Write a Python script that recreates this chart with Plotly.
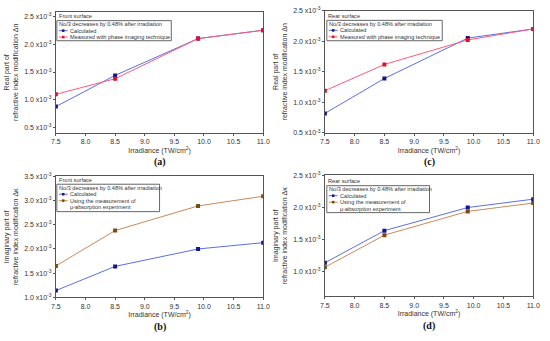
import plotly.graph_objects as go

# ---------------- data (values in units of 1e-3) ----------------
irradiance = [7.5, 8.5, 9.9, 11.0]

a_calc = [0.88, 1.44, 2.10, 2.25]
a_meas = [1.10, 1.38, 2.10, 2.25]

c_calc = [0.82, 1.39, 2.05, 2.20]
c_meas = [1.19, 1.62, 2.02, 2.20]

b_calc = [1.14, 1.64, 2.00, 2.13]
b_meas = [1.65, 2.38, 2.89, 3.09]

d_calc = [1.14, 1.64, 2.00, 2.13]
d_meas = [1.07, 1.57, 1.94, 2.07]

x_ticks = [7.5, 8.0, 8.5, 9.0, 9.5, 10.0, 10.5, 11.0]
y_ticks_a = [0.5, 1.0, 1.5, 2.0, 2.5]
y_ticks_b = [1.0, 1.5, 2.0, 2.5, 3.0, 3.5]
y_ticks_d = [1.0, 1.5, 2.0, 2.5]

legend_title = "No/3 decreases by 0.48% after irradiation"
name_calc = "Calculated"
name_phase = ["Measured with phase imaging technique"]
name_abs = ["Using the measurement of", "μ-absorption experiment"]

# ---------------- styles ----------------
W, H = 550, 341
BLUE_L, BLUE_M = "#5b6fe6", "#14148c"
RED_L, RED_M = "#ff5a78", "#e0102e"
BRN_L, BRN_M = "#c98a5c", "#7a4a14"
AX = "#555555"
TXT = "#333333"
FONT = "Liberation Sans, Arial, sans-serif"
LFS = 5.6      # legend font size
ROW = 6.6      # legend row height (px)


def px(x):
    return x / W


def py(y):
    return 1 - y / H


fig = go.Figure()

panels = [
    dict(xa="x", ya="y", box=(52, 8, 264, 131.5), yr=[0.41, 2.58], yt=y_ticks_a,
         calc=a_calc, meas=a_meas, mname=name_phase, ml=RED_L, mm=RED_M, surf="Front surface",
         ytitle="Real part of<br>refractive index modification Δn", cap="(a)",
         leg=(53, 17, 170, 37.5)),
    dict(xa="x2", ya="y2", box=(327, 6.7, 540, 131.7), yr=[0.5, 2.5], yt=y_ticks_a,
         calc=c_calc, meas=c_meas, mname=name_phase, ml=RED_L, mm=RED_M, surf="Rear surface",
         ytitle="Real part of<br>refractive index modification Δn", cap="(c)",
         leg=(329, 16.7, 447, 37.5)),
    dict(xa="x3", ya="y3", box=(52, 176, 264, 299.5), yr=[1.0, 3.5], yt=y_ticks_b,
         calc=b_calc, meas=b_meas, mname=name_abs, ml=BRN_L, mm=BRN_M, surf="Front surface",
         ytitle="Imaginary part of<br>refractive index modification Δκ", cap="(b)",
         leg=(53, 184, 158, 212)),
    dict(xa="x4", ya="y4", box=(327, 175, 540, 298.3), yr=[0.62, 2.5], yt=y_ticks_d,
         calc=d_calc, meas=d_meas, mname=name_abs, ml=BRN_L, mm=BRN_M, surf="Rear surface",
         ytitle="Imaginary part of<br>refractive index modification Δκ", cap="(d)",
         leg=(329, 185.5, 434, 213)),
]

layout = {}
annotations = []
shapes = []


def legend_entry(l, yc, text_lines, lc, mc):
    shapes.append(dict(type="line", xref="paper", yref="paper", x0=px(l + 2), x1=px(l + 11),
                       y0=py(yc), y1=py(yc), line=dict(color=lc, width=1)))
    shapes.append(dict(type="rect", xref="paper", yref="paper", x0=px(l + 5.2), x1=px(l + 7.8),
                       y0=py(yc - 1.3), y1=py(yc + 1.3), line=dict(width=0), fillcolor=mc))
    for k, t in enumerate(text_lines):
        annotations.append(dict(text=t, xref="paper", yref="paper", x=px(l + 12.5), y=py(yc + k * ROW),
                                xanchor="left", yanchor="middle", showarrow=False, borderpad=0,
                                font=dict(size=LFS, color=TXT, family=FONT)))


for i, p in enumerate(panels):
    x0, y0, x1, y1 = p["box"]
    dx = [px(x0), px(x1)]
    dy = [py(y1), py(y0)]
    fig.add_trace(go.Scatter(x=irradiance, y=p["calc"], mode="lines+markers", name=name_calc,
                             line=dict(color=BLUE_L, width=1), marker=dict(color=BLUE_M, size=4, symbol="square"),
                             xaxis=p["xa"], yaxis=p["ya"], showlegend=False))
    fig.add_trace(go.Scatter(x=irradiance, y=p["meas"], mode="lines+markers", name=" ".join(p["mname"]),
                             line=dict(color=p["ml"], width=1), marker=dict(color=p["mm"], size=4, symbol="square"),
                             xaxis=p["xa"], yaxis=p["ya"], showlegend=False))
    xk = "xaxis" if i == 0 else f"xaxis{i+1}"
    yk = "yaxis" if i == 0 else f"yaxis{i+1}"
    layout[xk] = dict(domain=dx, anchor=p["ya"], range=[7.5, 11.0], tickvals=x_ticks,
                      ticktext=[f"{v:.1f}" for v in x_ticks], showgrid=False, zeroline=False,
                      showline=True, mirror=True, linecolor=AX, linewidth=1, ticks="outside",
                      ticklen=2, tickcolor=AX, tickfont=dict(size=7, color=TXT, family=FONT),
                      title=dict(text="Irradiance (TW/cm<sup>2</sup>)", font=dict(size=7, color=TXT, family=FONT),
                                 standoff=3))
    layout[yk] = dict(domain=dy, anchor=p["xa"], range=p["yr"], tickvals=p["yt"],
                      ticktext=[f"{v:.1f} x10<sup>-3</sup>" for v in p["yt"]], showgrid=False, zeroline=False,
                      showline=True, mirror=True, linecolor=AX, linewidth=1, ticks="outside",
                      ticklen=2, tickcolor=AX, tickfont=dict(size=7, color=TXT, family=FONT),
                      title=dict(text=p["ytitle"], font=dict(size=7, color=TXT, family=FONT), standoff=4))

    # surface label
    annotations.append(dict(text=p["surf"], xref="paper", yref="paper", x=px(x0 + 2.5),
                            y=py(p["leg"][1] - 4.5), xanchor="left", yanchor="middle", showarrow=False,
                            borderpad=0, font=dict(size=LFS, color=TXT, family=FONT)))
    # legend box
    l, t, r, b = p["leg"]
    shapes.append(dict(type="rect", xref="paper", yref="paper", x0=px(l), x1=px(r), y0=py(b), y1=py(t),
                       line=dict(color="#666666", width=1), fillcolor="rgba(255,255,255,0.9)", layer="above"))
    annotations.append(dict(text=legend_title, xref="paper", yref="paper", x=px(l + 1), y=py(t + 3.6),
                            xanchor="left", yanchor="middle", showarrow=False, borderpad=0,
                            font=dict(size=LFS, color=TXT, family=FONT)))
    legend_entry(l, t + 3.6 + ROW, [name_calc], BLUE_L, BLUE_M)
    legend_entry(l, t + 3.6 + 2 * ROW, p["mname"], p["ml"], p["mm"])

    # caption
    annotations.append(dict(text=f"<b>{p['cap']}</b>", xref="paper", yref="paper",
                            x=(dx[0] + dx[1]) / 2, y=py(y1 + 30),
                            xanchor="center", yanchor="middle", showarrow=False, borderpad=0,
                            font=dict(size=10, color="#111111", family="Liberation Serif, Times New Roman, serif")))

fig.update_layout(width=W, height=H, margin=dict(l=0, r=0, t=0, b=0), showlegend=False,
                  paper_bgcolor="white", plot_bgcolor="white", annotations=annotations, shapes=shapes, **layout)

fig.write_html("out.html", config={"displayModeBar": False, "staticPlot": True},
               post_script="document.body.style.margin='0px';document.body.style.overflow='hidden';")
